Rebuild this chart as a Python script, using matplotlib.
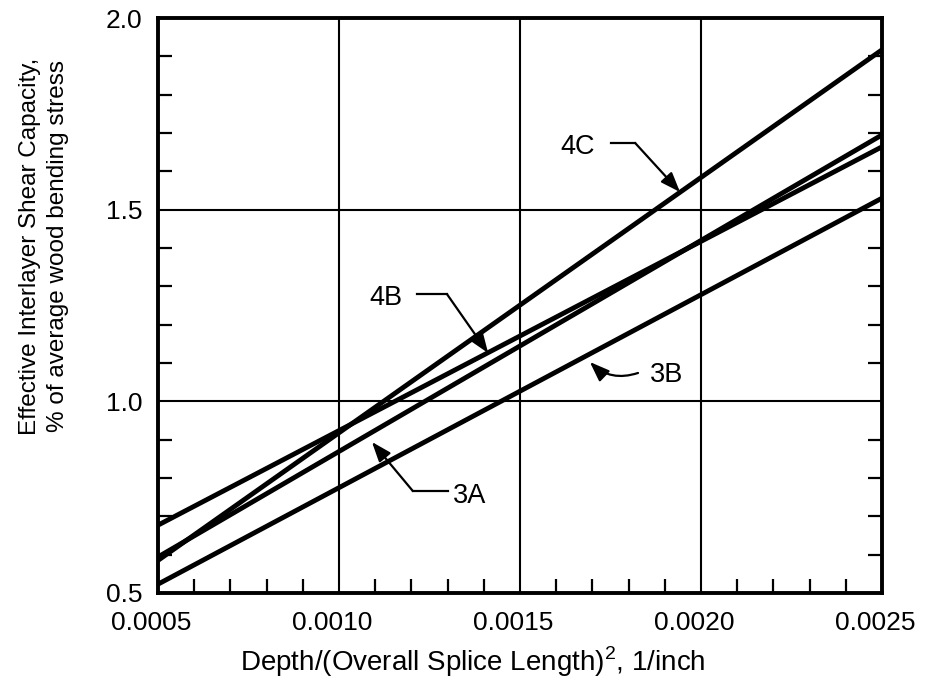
import numpy as np
import matplotlib
matplotlib.use('Agg')
import matplotlib.pyplot as plt
from matplotlib.ticker import MultipleLocator, FormatStrFormatter
import matplotlib.transforms as mtransforms

plt.rcParams['font.family'] = ['Liberation Sans', 'DejaVu Sans']
plt.rcParams['mathtext.fontset'] = 'custom'
plt.rcParams['mathtext.rm'] = 'Liberation Sans'

# end points of the fitted lines
x_ends = [0.0005, 0.0025]
line_4C = [0.585, 1.917]
line_4B = [0.677, 1.664]
line_3A = [0.594, 1.695]
line_3B = [0.523, 1.530]

x_ticks = [0.0005, 0.0010, 0.0015, 0.0020, 0.0025]
y_ticks = [0.5, 1.0, 1.5, 2.0]

# callouts: label, label position, leader start, elbow, arrow tip
callout_labels = ['4C', '4B', '3A']
callout_text = [(0.00166, 1.663), (0.00113, 1.27), (0.001362, 0.753)]
callout_start = [(0.00175, 1.674), (0.001215, 1.28), (0.001301, 0.766)]
callout_elbow = [(0.001818, 1.674), (0.001298, 1.28), (0.001204, 0.766)]
callout_tip = [(0.001942, 1.546), (0.001412, 1.126), (0.001091, 0.894)]

fig = plt.figure(figsize=(9.27, 6.88), dpi=100)
ax = fig.add_axes([158 / 927, 1 - 593 / 688, 724 / 927, 575 / 688])

for xv in x_ticks[1:-1]:
    ax.axvline(xv, color='black', lw=1.5, zorder=1)
for yv in y_ticks[1:-1]:
    ax.axhline(yv, color='black', lw=1.5, zorder=1)

for ys in [line_4C, line_4B, line_3A, line_3B]:
    ax.plot(x_ends, ys, color='black', lw=3.5, solid_capstyle='butt', zorder=3)

arrow = dict(arrowstyle='-|>,head_length=0.8,head_width=0.3', color='black',
             lw=1.6, mutation_scale=15, shrinkA=0, shrinkB=0)

for lab, t, s, e, tip in zip(callout_labels, callout_text, callout_start,
                             callout_elbow, callout_tip):
    ax.text(t[0], t[1], lab, fontsize=19.5, ha='center', va='center')
    ax.plot([s[0], e[0]], [s[1], e[1]], color='black', lw=1.6)
    ax.annotate('', xy=tip, xytext=e, arrowprops=arrow)

ax.text(0.001906, 1.069, '3B', fontsize=19.5, ha='center', va='center')
arrow_3b = dict(arrow, connectionstyle='arc3,rad=-0.3')
ax.annotate('', xy=(0.001693, 1.1026), xytext=(0.001826, 1.074), arrowprops=arrow_3b)

ax.set_xlim(0.0005, 0.0025)
ax.set_ylim(0.5, 2.0)
ax.set_xticks(x_ticks)
ax.set_yticks(y_ticks)
ax.xaxis.set_major_formatter(FormatStrFormatter('%.4f'))
ax.yaxis.set_major_formatter(FormatStrFormatter('%.1f'))
ax.xaxis.set_minor_locator(MultipleLocator(0.0001))
ax.yaxis.set_minor_locator(MultipleLocator(0.1))
ax.tick_params(which='both', direction='in', top=False, right=True,
               labelsize=19, width=1.6)
ax.tick_params(which='major', length=0, pad=11)
ax.tick_params(which='minor', length=10)
ax.tick_params(axis='x', pad=13)

for sp in ax.spines.values():
    sp.set_linewidth(2.8)

offset = mtransforms.ScaledTranslation(-7 / 100, 0, fig.dpi_scale_trans)
for lbl in ax.get_xticklabels():
    lbl.set_transform(lbl.get_transform() + offset)

fig.text(473 / 927, 1 - 662 / 688, 'Depth/(Overall Splice Length)$^2$, 1/inch',
         fontsize=20, ha='center', va='center')
fig.text(44 / 927, 1 - 246 / 688,
         'Effective Interlayer Shear Capacity,\n% of average wood bending stress',
         fontsize=17.5, ha='center', va='center', rotation=90,
         multialignment='center', linespacing=1.35)

fig.savefig('out.png', dpi=100)
